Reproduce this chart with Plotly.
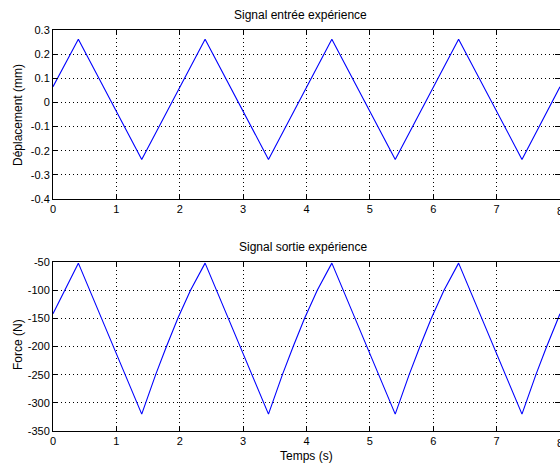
import plotly.graph_objects as go

# Input displacement signal (mm) vs time (s)
t_in = [0.0, 0.4, 1.4, 2.4, 3.4, 4.4, 5.4, 6.4, 7.4, 8.0]
disp_mm = [0.065, 0.262, -0.236, 0.262, -0.236, 0.262, -0.236, 0.262, -0.236, 0.065]

# Output force signal (N) vs time (s)
t_out = [0.0, 0.4, 1.4, 1.62, 1.79, 1.97, 2.17,
         2.4, 3.4, 3.62, 3.79, 3.97, 4.17,
         4.4, 5.4, 5.62, 5.79, 5.97, 6.17,
         6.4, 7.4, 7.62, 7.79, 7.97, 8.0]
force_n = [-142, -52, -320, -250, -200, -150, -100,
           -52, -320, -250, -200, -150, -100,
           -52, -320, -250, -200, -150, -100,
           -52, -320, -250, -200, -150, -142]

x_ticks = [0, 1, 2, 3, 4, 5, 6, 7, 8]
disp_ticks = [0.3, 0.2, 0.1, 0, -0.1, -0.2, -0.3, -0.4]
force_ticks = [-50, -100, -150, -200, -250, -300, -350]

W, H = 560, 466
ML, MR, MT, MB = 53, 0, 30, 35
PH = H - MT - MB

def frac(py):
    return (H - MB - py) / PH

FONT = "Liberation Sans, Arial, sans-serif"
LINE = "#0000ff"

fig = go.Figure()
fig.add_trace(go.Scatter(x=t_in, y=disp_mm, mode="lines",
                         line=dict(color=LINE, width=1.1),
                         xaxis="x", yaxis="y", showlegend=False))
fig.add_trace(go.Scatter(x=t_out, y=force_n, mode="lines",
                         line=dict(color=LINE, width=1.1),
                         xaxis="x2", yaxis="y2", showlegend=False))

common_axis = dict(
    showline=True, linecolor="black", linewidth=1, mirror="ticks",
    ticks="inside", ticklen=5, tickcolor="black", tickwidth=1,
    showgrid=True, gridcolor="black", gridwidth=1, griddash="1px,3px",
    zeroline=False, tickfont=dict(family=FONT, size=11, color="black"),
)

fig.update_layout(
    width=W, height=H,
    margin=dict(l=ML, r=MR, t=MT, b=MB, pad=0),
    paper_bgcolor="white", plot_bgcolor="white",
    font=dict(family=FONT, size=11, color="black"),
    xaxis=dict(common_axis, domain=[0, 1], range=[0, 8], anchor="y",
               tickvals=x_ticks, ticktext=[str(v) for v in x_ticks]),
    yaxis=dict(common_axis, domain=[frac(199), 1.0], range=[-0.4, 0.3],
               anchor="x", tickvals=disp_ticks,
               ticktext=[f"{v:g}" for v in disp_ticks]),
    xaxis2=dict(common_axis, domain=[0, 1], range=[0, 8], anchor="y2",
                tickvals=x_ticks, ticktext=[str(v) for v in x_ticks]),
    yaxis2=dict(common_axis, domain=[0.0, frac(262)], range=[-350, -50],
                anchor="x2", tickvals=force_ticks,
                ticktext=[str(v) for v in force_ticks]),
)

def px_x(px):
    return (px - ML) / (W - ML - MR)

annotations = [
    dict(text="Signal entrée expérience", x=px_x(300), y=frac(15)),
    dict(text="Signal sortie expérience", x=px_x(303), y=frac(247)),
    dict(text="Temps (s)", x=px_x(306), y=frac(456)),
    dict(text="Déplacement (mm)", x=px_x(18), y=frac(115), textangle=-90),
    dict(text="Force (N)", x=px_x(18), y=frac(345), textangle=-90),
]
for a in annotations:
    fig.add_annotation(xref="paper", yref="paper", showarrow=False,
                       xanchor="center", yanchor="middle",
                       font=dict(family=FONT, size=12, color="black"), **a)

# last x tick label sits on the right edge of the page
for xr, yr in (("x", "y"), ("x2", "y2")):
    fig.add_annotation(xref=xr, yref=yr + " domain", x=x_ticks[-1], y=0,
                       yshift=-4, text=str(x_ticks[-1]), showarrow=False,
                       xanchor="center", yanchor="top",
                       font=dict(family=FONT, size=11, color="black"))

fig.write_html("out.html")
